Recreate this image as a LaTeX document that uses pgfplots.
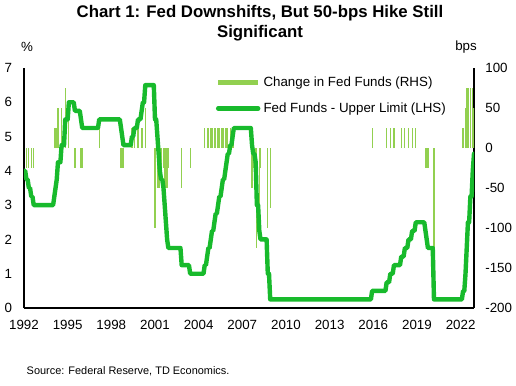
\documentclass[border=0pt]{standalone}
\usepackage{pgfplots}
\pgfplotsset{compat=1.18}
\usepackage{fontspec}
\setmainfont{Liberation Sans}
\definecolor{lgreen}{RGB}{146,208,80}
\definecolor{dgreen}{RGB}{24,186,44}

\pgfplotstableread{
x y
1992.000 4.00
1992.083 4.00
1992.167 3.75
1992.250 3.75
1992.333 3.50
1992.417 3.50
1992.500 3.25
1992.583 3.25
1992.667 3.00
1994.000 3.00
1994.083 3.25
1994.167 3.50
1994.250 3.75
1994.333 4.25
1994.500 4.25
1994.583 4.75
1994.750 4.75
1994.833 5.50
1995.000 5.50
1995.083 6.00
1995.417 6.00
1995.500 5.75
1995.833 5.75
1995.917 5.50
1996.000 5.25
1997.083 5.25
1997.167 5.50
1998.583 5.50
1998.667 5.25
1998.750 5.00
1998.833 4.75
1999.333 4.75
1999.417 5.00
1999.500 5.00
1999.583 5.25
1999.750 5.25
1999.833 5.50
2000.000 5.50
2000.083 5.75
2000.167 6.00
2000.250 6.00
2000.333 6.50
2000.917 6.50
2001.000 5.50
2001.083 5.50
2001.167 5.00
2001.250 4.50
2001.333 4.00
2001.417 3.75
2001.500 3.75
2001.583 3.50
2001.667 3.00
2001.750 2.50
2001.833 2.00
2001.917 1.75
2002.750 1.75
2002.833 1.25
2003.333 1.25
2003.417 1.00
2004.333 1.00
2004.417 1.25
2004.500 1.25
2004.583 1.50
2004.667 1.75
2004.750 1.75
2004.833 2.00
2004.917 2.25
2005.000 2.25
2005.083 2.50
2005.167 2.75
2005.250 2.75
2005.333 3.00
2005.417 3.25
2005.500 3.25
2005.583 3.50
2005.667 3.75
2005.750 3.75
2005.833 4.00
2005.917 4.25
2006.000 4.50
2006.083 4.50
2006.167 4.75
2006.250 4.75
2006.333 5.00
2006.417 5.25
2007.583 5.25
2007.667 4.75
2007.750 4.50
2007.833 4.50
2007.917 4.25
2008.000 3.00
2008.083 3.00
2008.167 2.25
2008.250 2.00
2008.667 2.00
2008.750 1.00
2008.833 1.00
2008.917 0.25
2015.833 0.25
2015.917 0.50
2016.833 0.50
2016.917 0.75
2017.083 0.75
2017.167 1.00
2017.333 1.00
2017.417 1.25
2017.833 1.25
2017.917 1.50
2018.083 1.50
2018.167 1.75
2018.333 1.75
2018.417 2.00
2018.583 2.00
2018.667 2.25
2018.833 2.25
2018.917 2.50
2019.500 2.50
2019.583 2.25
2019.667 2.00
2019.750 1.75
2020.083 1.75
2020.167 0.25
2022.083 0.25
2022.167 0.50
2022.250 0.50
2022.333 1.00
2022.417 1.75
2022.500 2.50
2022.583 2.50
2022.667 3.25
2022.750 3.25
2022.833 4.00
2022.917 4.50
}\fedfunds

\pgfplotstableread{
x y
1992.167 -25
1992.333 -25
1992.500 -25
1992.667 -25
1994.083 25
1994.167 25
1994.250 25
1994.333 50
1994.583 50
1994.833 75
1995.083 50
1995.500 -25
1995.917 -25
1996.000 -25
1997.167 25
1998.667 -25
1998.750 -25
1998.833 -25
1999.417 25
1999.583 25
1999.833 25
2000.083 25
2000.167 25
2000.333 50
2001.000 -100
2001.167 -50
2001.250 -50
2001.333 -50
2001.417 -25
2001.583 -25
2001.667 -50
2001.750 -50
2001.833 -50
2001.917 -25
2002.833 -50
2003.417 -25
2004.417 25
2004.583 25
2004.667 25
2004.833 25
2004.917 25
2005.083 25
2005.167 25
2005.333 25
2005.417 25
2005.583 25
2005.667 25
2005.833 25
2005.917 25
2006.000 25
2006.167 25
2006.333 25
2006.417 25
2007.667 -50
2007.750 -25
2007.917 -25
2008.000 -125
2008.167 -75
2008.250 -25
2008.750 -100
2008.917 -75
2015.917 25
2016.917 25
2017.167 25
2017.417 25
2017.917 25
2018.167 25
2018.417 25
2018.667 25
2018.917 25
2019.583 -25
2019.667 -25
2019.750 -25
2020.167 -150
2022.167 25
2022.333 50
2022.417 75
2022.500 75
2022.667 75
2022.833 75
2022.917 50
}\changes

\begin{document}
\begin{tikzpicture}
\useasboundingbox (-18pt,-57.75pt) rectangle (369pt,231pt);
% bars on right axis
\begin{axis}[
  at={(0,0)}, anchor=south west,
  scale only axis, width=337.5pt, height=180pt,
  xmin=1992, xmax=2022.917,
  ymin=-200, ymax=100,
  axis y line*=right, axis x line=none,
  ytick={-200,-150,...,100},
  major tick length=0pt,
  axis line style={line width=1.4pt, black},
  /pgf/number format/assume math mode=true,
  yticklabel style={font=\fontsize{10}{12}\selectfont, xshift=5pt},
  clip=true,
]
\addplot[ycomb, color=lgreen, line width=0.9pt] table[x=x,y=y] {\changes};
\end{axis}
% line on left axis
\begin{axis}[
  at={(0,0)}, anchor=south west,
  scale only axis, width=337.5pt, height=180pt,
  xmin=1992, xmax=2022.917,
  ymin=0, ymax=7,
  axis y line*=left, axis x line*=bottom,
  ytick={0,1,...,7},
  xtick={1992,1995,...,2022},
  xticklabels={1992,1995,1998,2001,2004,2007,2010,2013,2016,2019,2022},
  major tick length=0pt,
  axis line style={line width=1.4pt, black},
  /pgf/number format/assume math mode=true,
  yticklabel style={font=\fontsize{10}{12}\selectfont, xshift=-5.5pt},
  xticklabel style={font=\fontsize{10}{12}\selectfont, yshift=-5.5pt},
  legend image code/.code={\draw[#1] (0pt,0pt) -- (30pt,0pt);},
  legend style={at={(0.425,0.975)}, anchor=north west, draw=none, fill=none,
    font=\fontsize{10}{12}\selectfont, row sep=6.5pt, inner sep=0pt},
  legend cell align=left,
]
\addlegendimage{color=lgreen, line width=4pt}
\addlegendentry{Change in Fed Funds (RHS)}
\addplot[color=dgreen, line width=3.3pt, line join=round, line cap=round] table[x=x,y=y] {\fedfunds};
\addlegendentry{Fed Funds - Upper Limit (LHS)}
\end{axis}
\node[align=center, font=\bfseries\fontsize{12.6}{15}\selectfont] at (177pt,213.75pt) {Chart 1: Fed Downshifts, But 50-bps Hike Still\\Significant};
\node[font=\fontsize{10}{12}\selectfont] at (2.25pt,195.75pt) {\%};
\node[font=\fontsize{10}{12}\selectfont] at (331.5pt,195.75pt) {bps};
\node[anchor=west, font=\fontsize{8.2}{10}\selectfont] at (-1.5pt,-47.25pt) {Source: Federal Reserve, TD Economics.};
\end{tikzpicture}
\end{document}
